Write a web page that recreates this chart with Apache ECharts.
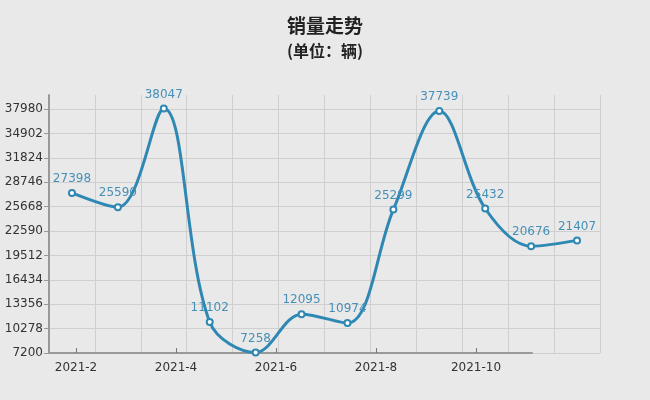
<!DOCTYPE html>
<html>
<head>
<meta charset="utf-8">
<script src="https://cdn.jsdelivr.net/npm/echarts@6/dist/echarts.min.js"></script>
<style>
html,body{margin:0;padding:0;background:#e9e9e9;}
#c{width:650px;height:400px;}
</style>
</head>
<body>
<div id="c"></div>
<script>
var categories = ['2021-1','2021-2','2021-3','2021-4','2021-5','2021-6','2021-7','2021-8','2021-9','2021-10','2021-11','2021-12'];
var sales = [27398, 25590, 38047, 11102, 7258, 12095, 10974, 25299, 37739, 25432, 20676, 21407];
var tickMonths = [2, 4, 6, 8, 10];
var tickLabels = ['2021-2', '2021-4', '2021-6', '2021-8', '2021-10'];
var yMin = 7200, yStep = 3078, yMax = 39750;

var chart = echarts.init(document.getElementById('c'));
var labelFont = 'DejaVu Sans';
chart.setOption({
  backgroundColor: '#e9e9e9',
  animation: false,
  title: [
    {text: '销量走势', left: 'center', top: 11,
     textStyle: {fontFamily: 'Noto Sans CJK SC', fontSize: 19, fontWeight: 'bold', color: '#222'}},
    {text: '(单位：辆)', left: 'center', top: 38,
     textStyle: {fontFamily: 'Noto Sans CJK SC', fontSize: 16, fontWeight: 'bold', color: '#222'}}
  ],
  grid: [
    {left: 49, right: 50, top: 95, bottom: 47},
    {left: 49, width: 483, top: 95, bottom: 47}
  ],
  xAxis: [
    {type: 'category', gridIndex: 0, data: categories, boundaryGap: true,
     axisLine: {show: false}, axisTick: {show: false}, axisLabel: {show: false},
     splitLine: {show: true, interval: 0, lineStyle: {color: '#cfcfcf', width: 1}}},
    {type: 'value', gridIndex: 1, min: 1.46, max: 11.12,
     axisLine: {show: true, onZero: false, lineStyle: {color: '#999', width: 2}},
     axisTick: {show: true, inside: true, length: 5, customValues: tickMonths, lineStyle: {color: '#777'}},
     axisLabel: {show: true, customValues: tickMonths, color: '#333', fontFamily: labelFont, fontSize: 12, margin: 9,
       formatter: function (v) { var i = tickMonths.indexOf(Math.round(v)); return i >= 0 ? tickLabels[i] : ''; }},
     splitLine: {show: false}}
  ],
  yAxis: [
    {type: 'value', gridIndex: 0, min: yMin, max: yMax, interval: yStep,
     axisLine: {show: true, lineStyle: {color: '#999', width: 2}},
     axisTick: {show: true, length: 5, lineStyle: {color: '#999'}},
     axisLabel: {color: '#333', fontFamily: labelFont, fontSize: 12, margin: 6, showMaxLabel: false,
       formatter: function (v) { return String(v); }},
     splitLine: {show: true, showMaxLine: false, lineStyle: {color: '#cfcfcf', width: 1}}},
    {type: 'value', gridIndex: 1, show: false, min: yMin, max: yMax}
  ],
  series: [{
    type: 'line', xAxisIndex: 0, yAxisIndex: 0, data: sales, smooth: 0.35,
    symbol: 'emptyCircle', symbolSize: 6,
    lineStyle: {color: '#2f88b3', width: 3},
    itemStyle: {color: '#2f88b3', borderWidth: 1.5},
    label: {show: true, position: 'top', color: '#4690b8', fontFamily: labelFont, fontSize: 12, distance: 4}
  }]
});
</script>
</body>
</html>
